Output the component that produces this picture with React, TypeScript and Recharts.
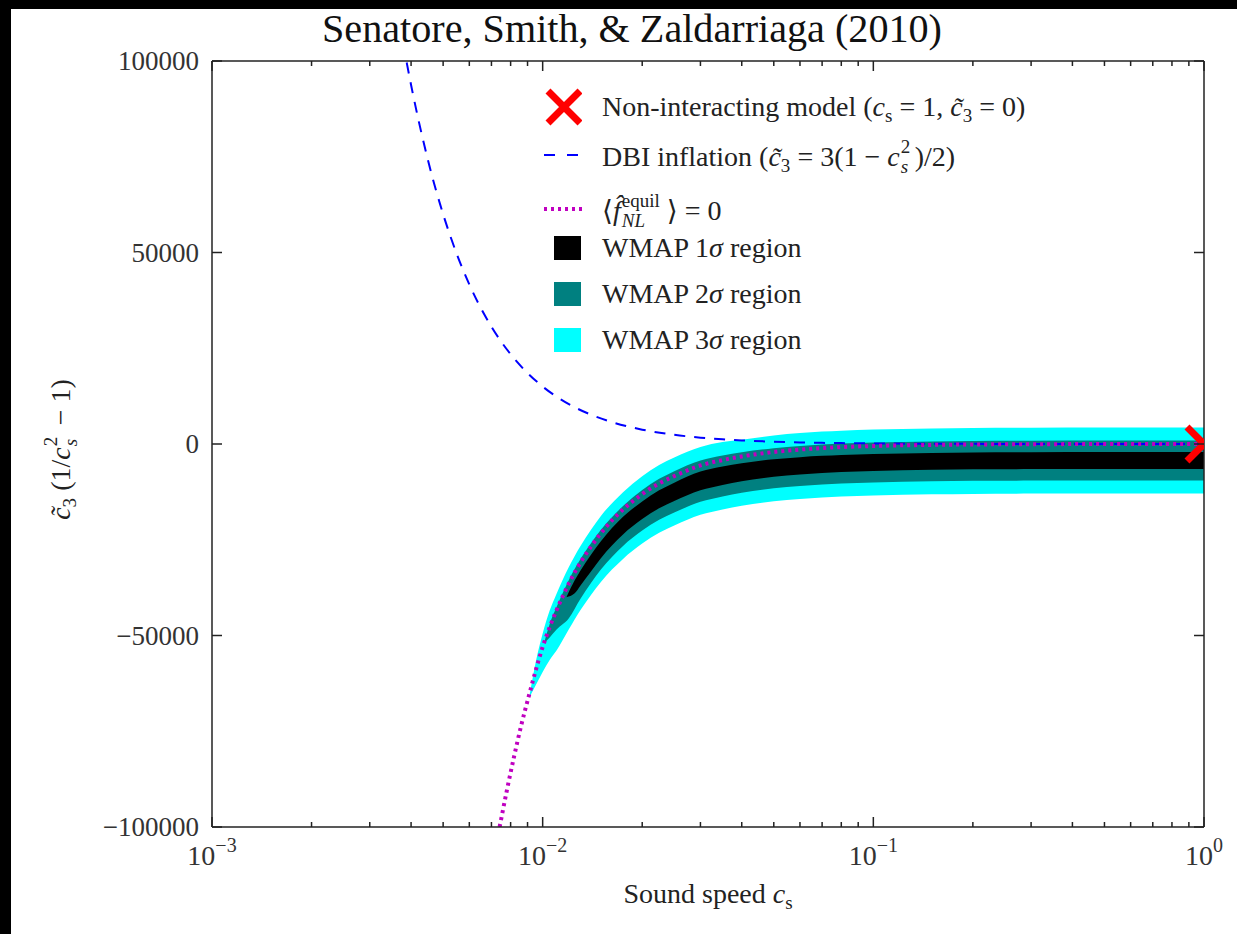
import { Area, ComposedChart, Line, ReferenceLine, Scatter, XAxis, YAxis } from 'recharts'

const W = 1237
const H = 934
const MARGIN = { top: 61, right: 33, bottom: 106, left: 211 }
const PLOT_W = 992
const PLOT_H = 766

const SERIF = '"Liberation Serif", "DejaVu Serif", serif'
const AXIS = '#222'
const LABEL = '#333'

// DBI inflation curve
const dbiCs = [0.00388, 0.004, 0.0045, 0.005, 0.0055, 0.006, 0.007, 0.008, 0.009, 0.01, 0.012, 0.014, 0.016, 0.018, 0.02, 0.025, 0.03, 0.035, 0.04, 0.05, 0.06, 0.07, 0.08, 0.1, 0.15, 0.2, 0.3, 0.5, 0.7, 1]
const dbiY = [99600, 93750, 74070, 60000, 49590, 41670, 30610, 23440, 18520, 15000, 10420, 7650, 5860, 4630, 3747, 2400, 1663, 1221, 934, 597, 414, 303, 231, 147, 64, 35, 14, 3.4, 0.8, 0]

// <f_NL^equil> = 0 curve
const equilCs = [0.00741, 0.0078, 0.0082, 0.0086, 0.0091, 0.0095, 0.01, 0.0105, 0.011, 0.012, 0.013, 0.014, 0.015, 0.0175, 0.02, 0.0225, 0.025, 0.03, 0.035, 0.04, 0.05, 0.06, 0.07, 0.08, 0.1, 0.15, 0.2, 0.3, 0.5, 0.7, 1]
const equilY = [-100000, -90300, -81500, -73700, -65500, -59500, -53000, -47800, -43500, -36400, -31000, -26800, -23300, -17100, -13100, -10300, -8400, -5600, -4200, -3250, -2080, -1450, -1060, -810, -520, -230, -125, -55, -16, -5, 0]

// WMAP 3 sigma region
const sigma3Cs = [0.0091, 0.0095, 0.01, 0.0105, 0.011, 0.012, 0.013, 0.014, 0.015, 0.0175, 0.02, 0.0225, 0.025, 0.03, 0.035, 0.04, 0.05, 0.06, 0.07, 0.08, 0.1, 0.15, 0.2, 0.3, 0.5, 0.7, 1]
const sigma3Low = [-66300, -63200, -59500, -56400, -54000, -48400, -43400, -39400, -36000, -30000, -26000, -23200, -21300, -18500, -17100, -16150, -14980, -14350, -13960, -13710, -13420, -13130, -13025, -12955, -12916, -12905, -12900]
const sigma3High = [-66300, -57500, -49500, -43500, -39200, -32100, -26700, -22400, -18800, -12600, -8400, -5500, -3500, -800, 500, 1100, 2220, 2850, 3240, 3490, 3780, 4070, 4175, 4245, 4284, 4295, 4300]

// WMAP 2 sigma region
const sigma2Cs = [0.0101, 0.0105, 0.011, 0.012, 0.013, 0.014, 0.015, 0.0175, 0.02, 0.0225, 0.025, 0.03, 0.035, 0.04, 0.05, 0.06, 0.07, 0.08, 0.1, 0.15, 0.2, 0.3, 0.5, 0.7, 1]
const sigma2Low = [-52000, -50500, -48500, -45500, -40500, -36300, -32800, -26600, -22600, -19800, -17900, -15100, -13700, -12750, -11580, -10950, -10560, -10310, -10020, -9730, -9625, -9555, -9516, -9505, -9500]
const sigma2High = [-52000, -47000, -42700, -35500, -30100, -25900, -22400, -16200, -12000, -9100, -7100, -4300, -3000, -2150, -1100, -500, -140, 100, 380, 670, 775, 845, 884, 895, 900]

// WMAP 1 sigma region
const sigma1Cs = [0.0118, 0.0125, 0.013, 0.014, 0.015, 0.0175, 0.02, 0.0225, 0.025, 0.03, 0.035, 0.04, 0.05, 0.06, 0.07, 0.08, 0.1, 0.15, 0.2, 0.3, 0.5, 0.7, 1]
const sigma1Low = [-40000, -39000, -37000, -33300, -29800, -23600, -19600, -16800, -14900, -12100, -10700, -9750, -8580, -7950, -7560, -7310, -7020, -6730, -6625, -6555, -6516, -6505, -6500]
const sigma1High = [-40000, -35600, -33100, -28900, -25400, -19000, -15000, -12100, -10100, -7200, -5900, -5050, -4000, -3450, -3100, -2880, -2610, -2330, -2225, -2155, -2116, -2105, -2100]

// non-interacting model point
const freeModel = [{ cs: 1, y: 0 }]

const xDecades = [0.001, 0.01, 0.1, 1]
const xMinorSteps = [2, 3, 4, 5, 6, 7, 8, 9]
const yTicks = [-100000, -50000, 0, 50000, 100000]

const xTicks = [
  ...xDecades,
  ...xDecades.slice(0, 3).flatMap((d) => xMinorSteps.map((m) => +(d * m).toPrecision(3))),
].sort((a, b) => a - b)

const lineRows = (xs: number[], ys: number[]) => xs.map((cs, i) => ({ cs, y: ys[i] }))
const bandRows = (xs: number[], lo: number[], hi: number[]) =>
  xs.map((cs, i) => ({ cs, band: [lo[i], hi[i]] }))

const dbiData = lineRows(dbiCs, dbiY)
const equilData = lineRows(equilCs, equilY)
const sigma3Data = bandRows(sigma3Cs, sigma3Low, sigma3High)
const sigma2Data = bandRows(sigma2Cs, sigma2Low, sigma2High)
const sigma1Data = bandRows(sigma1Cs, sigma1Low, sigma1High)

function XTick({ x, y, payload }: any) {
  const lg = Math.log10(payload.value)
  const e = Math.round(lg)
  const major = Math.abs(lg - e) < 1e-6
  const len = major ? 10 : 5
  return (
    <g>
      <line x1={x} x2={x} y1={y} y2={y - len} stroke={AXIS} strokeWidth={1.5} />
      <line x1={x} x2={x} y1={y - PLOT_H} y2={y - PLOT_H + len} stroke={AXIS} strokeWidth={1.5} />
      {major && (
        <text x={x} y={y + 38} textAnchor="middle" fontFamily={SERIF} fontSize={28} fill={LABEL}>
          10
          <tspan dy={-13} fontSize={20}>
            {e < 0 ? `\u2212${-e}` : `${e}`}
          </tspan>
        </text>
      )}
    </g>
  )
}

function YTick({ x, y, payload }: any) {
  const v = payload.value as number
  const txt = v < 0 ? `\u2212${-v}` : `${v}`
  return (
    <g>
      <line x1={x} x2={x + 10} y1={y} y2={y} stroke={AXIS} strokeWidth={1.5} />
      <line x1={x + PLOT_W} x2={x + PLOT_W - 10} y1={y} y2={y} stroke={AXIS} strokeWidth={1.5} />
      <text x={x - 13} y={y} dy="0.35em" textAnchor="end" fontFamily={SERIF} fontSize={27} fill={LABEL}>
        {txt}
      </text>
    </g>
  )
}

// red cross, clipped at the right edge of the axes
function CrossMark({ cx, cy }: any) {
  const r = 17
  return (
    <g>
      <defs>
        <clipPath id="cross-clip">
          <rect x={cx - 30} y={cy - 30} width={30} height={60} />
        </clipPath>
      </defs>
      <path
        d={`M${cx - r},${cy - r}L${cx + r},${cy + r}M${cx - r},${cy + r}L${cx + r},${cy - r}`}
        stroke="#ff0000"
        strokeWidth={7}
        clipPath="url(#cross-clip)"
      />
    </g>
  )
}

const sub = (t: string) => (
  <span style={{ fontSize: '0.68em', position: 'relative', top: '0.3em' }}>{t}</span>
)

// superscript stacked over a subscript
function Stack({ sup, low, w }: { sup: string; low: string; w: number }) {
  return (
    <span style={{ position: 'relative', display: 'inline-block', width: w, height: '1em' }}>
      <span style={{ position: 'absolute', left: 1, top: 0, fontSize: '0.68em', lineHeight: '17px' }}>{sup}</span>
      <span style={{ position: 'absolute', left: 1, top: 20, fontSize: '0.68em', lineHeight: '17px', fontStyle: 'italic' }}>{low}</span>
    </span>
  )
}

const legendRows = [
  { key: 'free', cy: 107 },
  { key: 'dbi', cy: 155 },
  { key: 'equil', cy: 209 },
  { key: 's1', cy: 248 },
  { key: 's2', cy: 294 },
  { key: 's3', cy: 340 },
]

function LegendIcon({ kind }: { kind: string }) {
  if (kind === 'free')
    return (
      <svg width={40} height={40}>
        <path d="M6,4L38,36M6,36L38,4" stroke="#ff0000" strokeWidth={7} />
      </svg>
    )
  if (kind === 'dbi')
    return (
      <svg width={40} height={40}>
        <line x1={2} x2={38} y1={20} y2={20} stroke="#0000ff" strokeWidth={2} strokeDasharray="11 12" />
      </svg>
    )
  if (kind === 'equil')
    return (
      <svg width={42} height={40}>
        <line x1={2} x2={42} y1={20} y2={20} stroke="#c000c0" strokeWidth={4} strokeDasharray="3 4" />
      </svg>
    )
  const fill = kind === 's1' ? '#000000' : kind === 's2' ? '#008080' : '#00ffff'
  return (
    <svg width={40} height={40}>
      <rect x={12} y={8} width={27} height={24} fill={fill} />
    </svg>
  )
}

function LegendText({ kind }: { kind: string }) {
  if (kind === 'free')
    return (
      <>
        Non-interacting model (<i>c</i>{sub('s')} = 1, <i>c̃</i>{sub('3')} = 0)
      </>
    )
  if (kind === 'dbi')
    return (
      <>
        DBI inflation (<i>c̃</i>{sub('3')} = 3(1 − <i>c</i><Stack sup="2" low="s" w={15} />)/2)
      </>
    )
  if (kind === 'equil')
    return (
      <>
        ⟨<i>f̂</i><Stack sup="equil" low="NL" w={46} />⟩ = 0
      </>
    )
  const n = kind === 's1' ? '1' : kind === 's2' ? '2' : '3'
  return (
    <>
      WMAP {n}
      <i>σ</i> region
    </>
  )
}

export default function App() {
  return (
    <div style={{ position: 'absolute', left: 0, top: 0, width: W, height: H, background: '#000', overflow: 'hidden' }}>
      <div style={{ position: 'absolute', left: 11, top: 9, right: 0, bottom: 0, background: '#fff' }} />
      <svg style={{ position: 'absolute', left: 0, top: 0 }} width={W} height={60}>
        <text
          x={632}
          y={42}
          textAnchor="middle"
          fontFamily={SERIF}
          fontSize={40}
          textLength={620}
          lengthAdjust="spacingAndGlyphs"
          fill="#111"
        >
          Senatore, Smith, &amp; Zaldarriaga (2010)
        </text>
      </svg>

      <div style={{ position: 'absolute', left: 0, top: 0 }}>
        <ComposedChart width={W} height={H} margin={MARGIN}>
          <XAxis
            dataKey="cs"
            type="number"
            scale="log"
            domain={[0.001, 1]}
            allowDataOverflow
            ticks={xTicks}
            interval={0}
            height={1}
            tickSize={0}
            tickMargin={0}
            tickLine={false}
            tick={<XTick />}
            axisLine={{ stroke: AXIS, strokeWidth: 1.5 }}
          />
          <YAxis
            type="number"
            domain={[-100000, 100000]}
            allowDataOverflow
            ticks={yTicks}
            interval={0}
            width={1}
            tickSize={0}
            tickMargin={0}
            tickLine={false}
            tick={<YTick />}
            axisLine={{ stroke: AXIS, strokeWidth: 1.5 }}
          />
          <Area data={sigma3Data} dataKey="band" type="monotone" fill="#00ffff" fillOpacity={1} stroke="none" isAnimationActive={false} />
          <Area data={sigma2Data} dataKey="band" type="monotone" fill="#008080" fillOpacity={1} stroke="none" isAnimationActive={false} />
          <Area data={sigma1Data} dataKey="band" type="monotone" fill="#000000" fillOpacity={1} stroke="none" isAnimationActive={false} />
          <Line data={dbiData} dataKey="y" type="monotone" stroke="#0000ff" strokeWidth={2} strokeDasharray="11 9" dot={false} isAnimationActive={false} />
          <Line data={equilData} dataKey="y" type="monotone" stroke="#c000c0" strokeWidth={4} strokeDasharray="3 4" dot={false} isAnimationActive={false} />
          <Scatter data={freeModel} dataKey="y" shape={<CrossMark />} isAnimationActive={false} />
          <ReferenceLine y={100000} stroke={AXIS} strokeWidth={1.5} />
          <ReferenceLine x={1} stroke={AXIS} strokeWidth={1.5} />
        </ComposedChart>
      </div>

      {legendRows.map((r) => (
        <div key={r.key}>
          <div style={{ position: 'absolute', left: 542, top: r.cy - 20 }}>
            <LegendIcon kind={r.key} />
          </div>
          <div
            style={{
              position: 'absolute',
              left: 602,
              top: r.cy - 17,
              fontFamily: SERIF,
              fontSize: 28,
              lineHeight: '34px',
              color: '#222',
              whiteSpace: 'nowrap',
            }}
          >
            <LegendText kind={r.key} />
          </div>
        </div>
      ))}

      <div
        style={{
          position: 'absolute',
          left: 508,
          top: 877,
          width: 400,
          textAlign: 'center',
          fontFamily: SERIF,
          fontSize: 28,
          lineHeight: '34px',
          color: '#222',
        }}
      >
        Sound speed <i>c</i>
        {sub('s')}
      </div>

      <div
        style={{
          position: 'absolute',
          left: 61 - 150,
          top: 447 - 17,
          width: 300,
          textAlign: 'center',
          fontFamily: SERIF,
          fontSize: 28,
          lineHeight: '34px',
          color: '#222',
          transform: 'rotate(-90deg)',
          whiteSpace: 'nowrap',
        }}
      >
        <i>c̃</i>
        {sub('3')} (1/<i>c</i>
        <Stack sup="2" low="s" w={15} /> − 1)
      </div>
    </div>
  )
}
